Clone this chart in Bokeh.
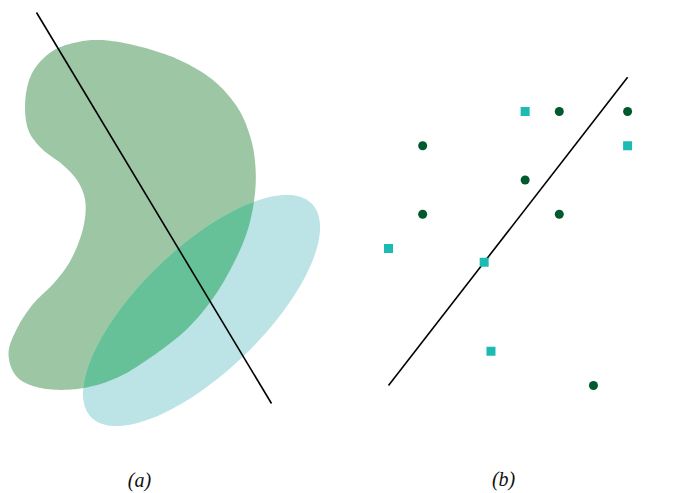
import math
from bokeh.plotting import figure
from bokeh.layouts import row
from bokeh.models import Range1d
from bokeh.core.properties import value
from bokeh.embed import file_html
from bokeh.resources import INLINE

# ---------------- panel (a) data (shape units, y up) ----------------
blob_x = [107, 143, 180, 213, 237, 250, 255, 254, 247, 233, 213, 187, 153, 117, 80, 43,
          17, 8, 17, 33, 53, 70, 82, 85, 78, 63, 40, 27, 25, 33, 53, 80]
blob_y_img = [40, 47, 60, 80, 107, 137, 167, 197, 230, 263, 297, 328, 355, 377, 388, 388,
              377, 353, 327, 303, 283, 260, 230, 203, 182, 165, 147, 127, 97, 70, 50, 41]
blob_y = [493 - v for v in blob_y_img]

ellipse_center = (201, 183)
ellipse_axes = (307, 124)      # full width, full height
ellipse_angle_deg = 44

line_a_x = [36, 271]
line_a_y = [481, 90]

# ---------------- panel (b) data (grid units) ----------------
circle_x = [1, 5, 7, 4, 1, 5, 6]
circle_y = [7, 8, 8, 6, 5, 5, 0]
square_x = [4, 7, 0, 2.8, 3]
square_y = [8, 7, 4, 3.6, 1]
line_b_x = [0, 7]
line_b_y = [0, 9]

labels = ["(a)", "(b)"]

BLOB_COL = "#9DC6A4"
ELL_COL = "#BCE3E5"
OVL_COL = "#66C198"
DOT_COL = "#005A2E"
SQ_COL = "#1BBBB3"


def smooth_closed(xs, ys, n=12):
    ox, oy = [], []
    m = len(xs)
    for i in range(m):
        p0 = (xs[i - 1], ys[i - 1]); p1 = (xs[i], ys[i])
        p2 = (xs[(i + 1) % m], ys[(i + 1) % m]); p3 = (xs[(i + 2) % m], ys[(i + 2) % m])
        for k in range(n):
            t = k / n
            t2, t3 = t * t, t * t * t
            for c, out in ((0, ox), (1, oy)):
                out.append(0.5 * (2 * p1[c] + (-p0[c] + p2[c]) * t
                                  + (2 * p0[c] - 5 * p1[c] + 4 * p2[c] - p3[c]) * t2
                                  + (-p0[c] + 3 * p1[c] - 3 * p2[c] + p3[c]) * t3))
    return ox, oy


def ellipse_poly(c, axes, ang, n=160):
    a, b = axes[0] / 2, axes[1] / 2
    th = math.radians(ang)
    xs, ys = [], []
    for k in range(n):
        t = 2 * math.pi * k / n
        ex, ey = a * math.cos(t), b * math.sin(t)
        xs.append(c[0] + ex * math.cos(th) - ey * math.sin(th))
        ys.append(c[1] + ex * math.sin(th) + ey * math.cos(th))
    return xs, ys  # counter-clockwise


def clip(subject, clipper):
    def inside(p, a, b):
        return (b[0] - a[0]) * (p[1] - a[1]) - (b[1] - a[1]) * (p[0] - a[0]) >= 0

    def inter(p, q, a, b):
        x1, y1 = p; x2, y2 = q; x3, y3 = a; x4, y4 = b
        den = (x1 - x2) * (y3 - y4) - (y1 - y2) * (x3 - x4)
        t = ((x1 - x3) * (y3 - y4) - (y1 - y3) * (x3 - x4)) / den
        return (x1 + t * (x2 - x1), y1 + t * (y2 - y1))

    out = subject
    for i in range(len(clipper)):
        a = clipper[i]; b = clipper[(i + 1) % len(clipper)]
        inp = out; out = []
        if not inp:
            break
        s = inp[-1]
        for e in inp:
            if inside(e, a, b):
                if not inside(s, a, b):
                    out.append(inter(s, e, a, b))
                out.append(e)
            elif inside(s, a, b):
                out.append(inter(s, e, a, b))
            s = e
    return out


bx, by = smooth_closed(blob_x, blob_y)
ex, ey = ellipse_poly(ellipse_center, ellipse_axes, ellipse_angle_deg)
ov = clip(list(zip(bx, by)), list(zip(ex, ey)))

W, H = 346, 493
pa = figure(width=W, height=H, output_backend="svg", toolbar_location=None,
            x_range=Range1d(0, 346), y_range=Range1d(0, 493), min_border=0)
pa.patch(bx, by, fill_color=BLOB_COL, line_color=None)
pa.patch(ex, ey, fill_color=ELL_COL, line_color=None)
pa.patch([p[0] for p in ov], [p[1] for p in ov], fill_color=OVL_COL, line_color=None)
pa.line(line_a_x, line_a_y, line_color="black", line_width=1.6)
pa.text([139], [14], text=[labels[0]], text_font=value("Liberation Serif"),
        text_font_style="italic", text_font_size="20px", text_align="center",
        text_baseline="middle", text_color="#111111")

pb = figure(width=W, height=H, output_backend="svg", toolbar_location=None,
            x_range=Range1d(-1.23, 8.90), y_range=Range1d(-3.153, 11.241), min_border=0)
pb.line(line_b_x, line_b_y, line_color="black", line_width=1.6)
pb.scatter(square_x, square_y, marker="square", size=9, fill_color=SQ_COL, line_color=None)
pb.scatter(circle_x, circle_y, marker="circle", size=9, fill_color=DOT_COL, line_color=None)
pb.text([3.37], [-2.74], text=[labels[1]], text_font=value("Liberation Serif"),
        text_font_style="italic", text_font_size="20px", text_align="center",
        text_baseline="middle", text_color="#111111")

for f in (pa, pb):
    f.axis.visible = False
    f.grid.visible = False
    f.outline_line_color = None
    f.background_fill_color = "white"
    f.border_fill_color = "white"

p = row(pa, pb)
open("out.html", "w").write(file_html(p, INLINE))
